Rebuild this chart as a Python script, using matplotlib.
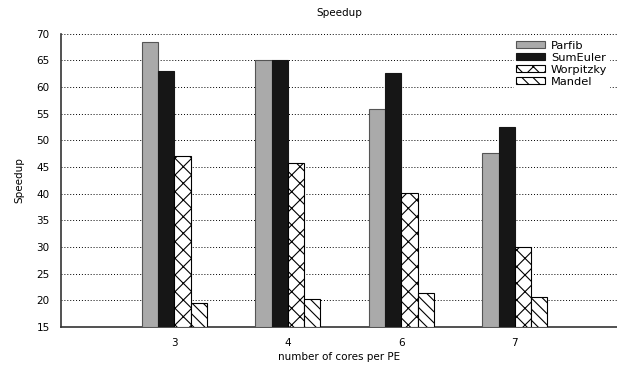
import numpy as np
from matplotlib import pyplot as plt

cores = ['3', '4', '6', '7']
parfib = [68.4, 65.1, 55.9, 47.6]
sumeuler = [63.0, 65.0, 62.7, 52.5]
worpitzky = [47.0, 45.7, 40.2, 30.0]
mandel = [19.5, 20.3, 21.4, 20.7]

plt.rcParams['font.family'] = 'DejaVu Sans'
plt.rcParams['font.size'] = 7.5
plt.rcParams['hatch.linewidth'] = 0.8

fig = plt.figure(figsize=(6.17, 3.67), dpi=100)
ax = fig.add_axes([0.0985, 0.109, 0.9015, 0.7995])

x = np.arange(len(cores))
w = 0.143
base = 15

styles = [
    ('Parfib', parfib, dict(facecolor='#aaaaaa', edgecolor='#555555')),
    ('SumEuler', sumeuler, dict(facecolor='#161616', edgecolor='#161616')),
    ('Worpitzky', worpitzky, dict(facecolor='white', edgecolor='black', hatch='xx')),
    ('Mandel', mandel, dict(facecolor='white', edgecolor='black', hatch='\\\\\\')),
]

for i, (name, vals, st) in enumerate(styles):
    vals = np.array(vals)
    ax.bar(x + (i - 1.5) * w, vals - base, w, bottom=base, label=name,
           linewidth=0.8, zorder=3, **st)

ax.set_xlim(-1, 3.9)
ax.set_ylim(15, 70)
ax.set_yticks(np.arange(15, 71, 5))
ax.set_xticks(x)
ax.set_xticklabels(cores)
ax.grid(axis='y', linestyle=(0, (1, 2)), color='black', linewidth=0.7, zorder=0)

for s in ['top', 'right']:
    ax.spines[s].set_visible(False)
ax.spines['left'].set_color('#333333')
ax.spines['bottom'].set_color('#333333')
ax.spines['left'].set_linewidth(1.2)
ax.spines['bottom'].set_linewidth(1.2)
ax.tick_params(axis='x', length=0, pad=8)
ax.tick_params(axis='y', length=0, pad=8)

ax.set_title('Speedup', fontsize=7.5, pad=13)
ax.set_xlabel('number of cores per PE', labelpad=3)
ax.set_ylabel('Speedup', labelpad=9)

leg = ax.legend(loc='upper right', bbox_to_anchor=(0.99, 0.99), frameon=True,
                fancybox=False, edgecolor='white', framealpha=1,
                handlelength=2.6, handleheight=0.5, labelspacing=0.18,
                borderpad=0.15, handletextpad=0.5, borderaxespad=0.2,
                fontsize=8.2)
leg.set_zorder(5)

fig.savefig('out.png', dpi=100)
